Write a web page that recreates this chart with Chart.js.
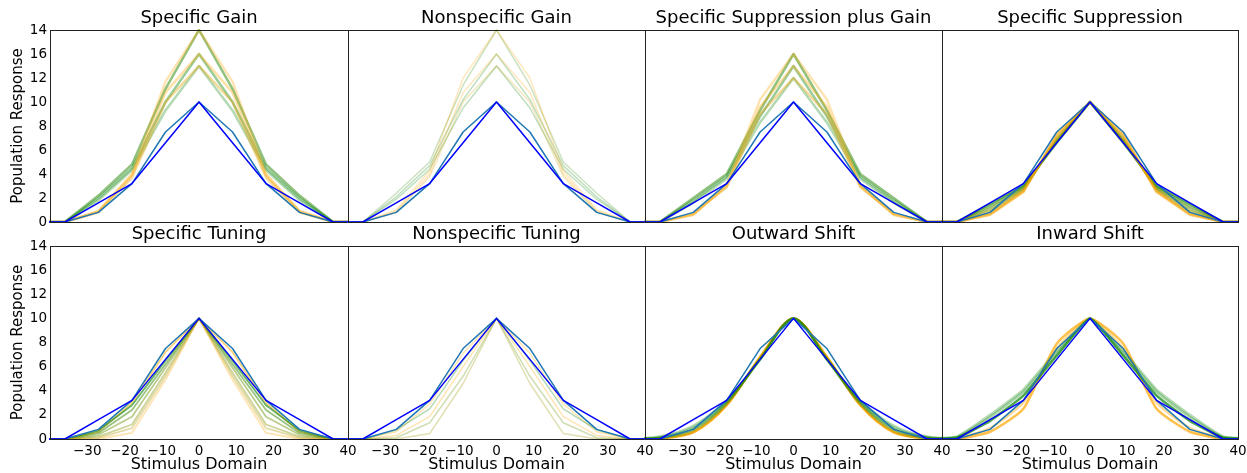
<!DOCTYPE html>
<html>
<head>
<meta charset="utf-8">
<script src="https://cdn.jsdelivr.net/npm/chart.js@4.4.1/dist/chart.umd.min.js"></script>
<style>
  body { margin: 0; background: #fff; }
  #wrap { position: relative; width: 1247px; height: 473px; }
  #wrap canvas { position: absolute; left: 0; top: 0; }
</style>
</head>
<body>
<div id="wrap"></div>
<script>
// stimulus positions (x) shared by every curve
const stimulus = [-45, -36, -27, -18, -9, 0, 9, 18, 27, 36, 45];

const xTickValues = [-30, -20, -10, 0, 10, 20, 30, 40];
const xTickLabels = ['\u221230', '\u221220', '\u221210', '0', '10', '20', '30', '40'];
const yTickValues = [0, 2, 4, 6, 8, 10, 12, 14, 16];
const yTickLabels = ['0', '2', '4', '6', '8', '10', '12', '16', '14'];

const panelTitles = [
  'Specific Gain', 'Nonspecific Gain', 'Specific Suppression plus Gain', 'Specific Suppression',
  'Specific Tuning', 'Nonspecific Tuning', 'Outward Shift', 'Inward Shift'
];

// reference curves, same in every panel
const baseline = [0, 0, 1.6, 3.2, 6.6, 10, 6.6, 3.2, 1.6, 0, 0];
const tunedBaseline = [0, 0, 0.8, 3.2, 7.5, 10, 7.5, 3.2, 0.8, 0, 0];

// model families
const specificGain = [
  [0, 0, 0.9, 4.0, 11.7, 16, 11.7, 4.0, 0.9, 0, 0],
  [0, 0, 0.9, 3.9, 10.8, 14, 10.8, 3.9, 0.9, 0, 0],
  [0, 0, 0.8, 3.7, 10.0, 13, 10.0, 3.7, 0.8, 0, 0],
  [0, 0, 1.8, 4.3, 9.3, 13, 9.3, 4.3, 1.8, 0, 0],
  [0, 0, 2.0, 4.5, 10.0, 14, 10.0, 4.5, 2.0, 0, 0],
  [0, 0, 2.2, 4.8, 11.1, 16, 11.1, 4.8, 2.2, 0, 0]
];
const nonspecificGain = [
  [0, 0, 1.0, 4.3, 12.0, 16, 12.0, 4.3, 1.0, 0, 0],
  [0, 0, 0.9, 4.0, 10.8, 14, 10.8, 4.0, 0.9, 0, 0],
  [0, 0, 0.8, 3.8, 10.0, 13, 10.0, 3.8, 0.8, 0, 0],
  [0, 0, 1.9, 4.4, 9.5, 13, 9.5, 4.4, 1.9, 0, 0],
  [0, 0, 2.1, 4.7, 10.2, 14, 10.2, 4.7, 2.1, 0, 0],
  [0, 0, 2.4, 5.0, 11.4, 16, 11.4, 5.0, 2.4, 0, 0]
];
const suppressionPlusGain = [
  [0, 0, 0.6, 3.1, 10.2, 14, 10.2, 3.1, 0.6, 0, 0],
  [0, 0, 0.6, 3.0, 9.6, 13, 9.6, 3.0, 0.6, 0, 0],
  [0, 0, 0.7, 2.9, 9.0, 12, 9.0, 2.9, 0.7, 0, 0],
  [0, 0, 1.6, 3.6, 8.3, 12, 8.3, 3.6, 1.6, 0, 0],
  [0, 0, 1.8, 3.8, 8.8, 13, 8.8, 3.8, 1.8, 0, 0],
  [0, 0, 2.0, 4.0, 9.3, 14, 9.3, 4.0, 2.0, 0, 0]
];
const specificSuppression = [
  [0, 0, 0.6, 2.5, 7.3, 10, 7.3, 2.5, 0.6, 0, 0],
  [0, 0, 0.7, 2.6, 7.1, 10, 7.1, 2.6, 0.7, 0, 0],
  [0, 0, 0.9, 2.7, 6.9, 10, 6.9, 2.7, 0.9, 0, 0],
  [0, 0, 1.1, 2.8, 6.8, 10, 6.8, 2.8, 1.1, 0, 0],
  [0, 0, 1.3, 2.9, 6.7, 10, 6.7, 2.9, 1.3, 0, 0],
  [0, 0, 1.5, 3.0, 6.6, 10, 6.6, 3.0, 1.5, 0, 0]
];
const specificTuning = [
  [0, 0, 0.0, 0.5, 4.9, 10, 4.9, 0.5, 0.0, 0, 0],
  [0, 0, 0.1, 0.9, 5.2, 10, 5.2, 0.9, 0.1, 0, 0],
  [0, 0, 0.2, 1.2, 5.5, 10, 5.5, 1.2, 0.2, 0, 0],
  [0, 0, 0.35, 1.85, 5.9, 10, 5.9, 1.85, 0.35, 0, 0],
  [0, 0, 0.5, 2.4, 6.2, 10, 6.2, 2.4, 0.5, 0, 0],
  [0, 0, 0.7, 2.8, 6.5, 10, 6.5, 2.8, 0.7, 0, 0],
  [0, 0, 0.6, 3.0, 7.2, 10, 7.2, 3.0, 0.6, 0, 0]
];
const nonspecificTuning = [
  [0, 0, 0.0, 0.45, 4.6, 10, 4.6, 0.45, 0.0, 0, 0],
  [0, 0, 0.1, 1.35, 5.2, 10, 5.2, 1.35, 0.1, 0, 0],
  [0, 0, 0.3, 1.85, 6.0, 10, 6.0, 1.85, 0.3, 0, 0],
  [0, 0, 0.75, 2.5, 6.5, 10, 6.5, 2.5, 0.75, 0, 0],
  [0, 0, 0.6, 2.9, 7.1, 10, 7.1, 2.9, 0.6, 0, 0]
];
const outwardShift = [
  [0, 0.2, 1.1, 3.2, 6.6, 10, 6.6, 3.2, 1.1, 0.2, 0],
  [0, 0.15, 0.95, 3.1, 6.6, 10, 6.6, 3.1, 0.95, 0.15, 0],
  [0, 0.1, 0.8, 3.0, 6.6, 10, 6.6, 3.0, 0.8, 0.1, 0],
  [0, 0.05, 0.65, 2.9, 6.7, 10, 6.7, 2.9, 0.65, 0.05, 0],
  [0, 0.05, 0.55, 2.8, 6.8, 10, 6.8, 2.8, 0.55, 0.05, 0]
];
const inwardShift = [
  [0, 0.2, 2.0, 4.1, 7.3, 10, 7.3, 4.1, 2.0, 0.2, 0],
  [0, 0.15, 1.8, 3.9, 7.1, 10, 7.1, 3.9, 1.8, 0.15, 0],
  [0, 0.1, 1.5, 3.6, 6.9, 10, 6.9, 3.6, 1.5, 0.1, 0],
  [0, 0.05, 0.9, 3.0, 7.5, 10, 7.5, 3.0, 0.9, 0.05, 0],
  [0, 0.0, 0.6, 2.5, 7.9, 10, 7.9, 2.5, 0.6, 0.0, 0]
];

const families = [specificGain, nonspecificGain, suppressionPlusGain, specificSuppression,
                  specificTuning, nonspecificTuning, outwardShift, inwardShift];

// styling: [orange->green mix, alpha] per family line
const shades = [
  [[0, .3], [0, .35], [.1, .4], [1, .3], [1, .4], [.85, .5]],
  [[0, .25], [0, .25], [.2, .25], [1, .25], [1, .25], [.8, .25]],
  [[0, .3], [0, .35], [.1, .4], [1, .3], [1, .4], [.85, .5]],
  [[0, .6], [.2, .5], [.4, .5], [.6, .5], [.8, .5], [1, .6]],
  [[0, .3], [.3, .35], [.5, .4], [.6, .45], [.8, .5], [1, .6], [0, .5]],
  [[.4, .3], [.6, .3], [0, .3], [1, .3], [0, .3]],
  [[1, .3], [1, .35], [.9, .45], [.3, .5], [0, .9]],
  [[1, .3], [1, .35], [1, .7], [0, .4], [0, .7]]
];
const lineWidths = [2.5, 1.5, 2.5, 2.5, 1.8, 1.5, 2.5, 2.5];
const tensions = [0, 0, 0, 0, 0, 0, 0.3, 0.18];

const colLeft = [50, 348, 645, 942, 1238];
const rowTop = [30, 246];
const rowBottom = [222, 439];

function mix(t, a) {
  const r = Math.round(255 * (1 - t));
  const g = Math.round(165 * (1 - t) + 128 * t);
  return `rgba(${r},${g},0,${a})`;
}

const panelText = {
  id: 'panelText',
  afterDraw(chart, args, opts) {
    const { ctx, chartArea: a } = chart;
    ctx.save();
    ctx.strokeStyle = '#222';
    ctx.lineWidth = 1;
    ctx.strokeRect(Math.round(a.left) + 0.5, Math.round(a.top) + 0.5,
                   Math.round(a.right - a.left), Math.round(a.bottom - a.top));
    ctx.fillStyle = '#000';
    ctx.textAlign = 'center';
    ctx.textBaseline = 'middle';
    ctx.font = '18px "DejaVu Sans"';
    ctx.fillText(opts.title, (a.left + a.right) / 2, a.top - 12);
    if (opts.xLabel) {
      ctx.font = '16px "DejaVu Sans"';
      ctx.fillText('Stimulus Domain', (a.left + a.right) / 2, a.bottom + 26);
    }
    if (opts.yLabel) {
      ctx.font = '15px "DejaVu Sans"';
      ctx.translate(a.left - 32, (a.top + a.bottom) / 2);
      ctx.rotate(-Math.PI / 2);
      ctx.fillText('Population Response', 0, 0);
    }
    ctx.restore();
  }
};

const wrap = document.getElementById('wrap');

families.forEach((fam, i) => {
  const col = i % 4, row = Math.floor(i / 4);
  const canvas = document.createElement('canvas');
  canvas.width = 1247;
  canvas.height = 473;
  wrap.appendChild(canvas);

  const pts = arr => stimulus.map((x, k) => ({ x, y: arr[k] }));
  const datasets = [
    { data: pts(baseline), borderColor: '#0000ff', borderWidth: 1.5 },
    { data: pts(tunedBaseline), borderColor: '#1f77b4', borderWidth: 1.5 }
  ];
  fam.forEach((arr, k) => {
    const [t, a] = shades[i][k];
    datasets.push({
      data: pts(arr),
      borderColor: mix(t, a),
      borderWidth: lineWidths[i],
      tension: (i === 7 && t > 0.5) ? 0.12 : tensions[i]
    });
  });

  const showX = row === 1, showY = col === 0;
  const axisW = showY ? colLeft[0] : 0;              // room for y tick labels (first column only)
  const axisH = showX ? 473 - rowBottom[1] : 0;      // room for x tick labels (bottom row only)

  new Chart(canvas, {
    type: 'line',
    data: { datasets },
    options: {
      responsive: false,
      animation: false,
      devicePixelRatio: 1,
      events: [],
      layout: {
        padding: {
          left: showY ? 0 : colLeft[col],
          right: 1247 - colLeft[col + 1],
          top: rowTop[row],
          bottom: showX ? 0 : 473 - rowBottom[row]
        }
      },
      elements: { point: { radius: 0 }, line: { borderJoinStyle: 'round' } },
      datasets: { line: { clip: 1 } },
      plugins: {
        legend: { display: false },
        tooltip: { enabled: false },
        panelText: { title: panelTitles[i], xLabel: showX, yLabel: showY }
      },
      scales: {
        x: {
          type: 'linear', min: -40, max: 40,
          display: showX,
          grid: { display: false, drawTicks: false },
          border: { display: false },
          ticks: {
            autoSkip: false, maxRotation: 0, minRotation: 0, padding: 4, color: '#000',
            font: { family: 'DejaVu Sans', size: 13.5 },
            callback: v => xTickLabels[xTickValues.indexOf(v)]
          },
          afterBuildTicks: s => { s.ticks = xTickValues.map(v => ({ value: v })); },
          afterFit: s => { s.height = axisH; s.paddingLeft = 0; s.paddingRight = 0; }
        },
        y: {
          type: 'linear', min: 0, max: 16,
          display: showY,
          grid: { display: false, drawTicks: false },
          border: { display: false },
          ticks: {
            autoSkip: false, padding: 3, color: '#000',
            font: { family: 'DejaVu Sans', size: 13.5 },
            callback: v => yTickLabels[yTickValues.indexOf(v)]
          },
          afterBuildTicks: s => { s.ticks = yTickValues.map(v => ({ value: v })); },
          afterFit: s => { s.width = axisW; s.paddingTop = 0; s.paddingBottom = 0; }
        }
      }
    },
    plugins: [panelText]
  });
});
</script>
</body>
</html>
